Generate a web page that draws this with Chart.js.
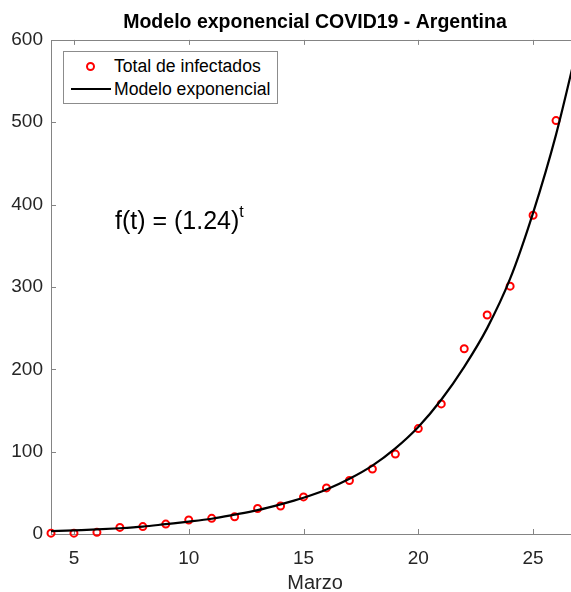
<!DOCTYPE html>
<html>
<head>
<meta charset="utf-8">
<script src="https://cdn.jsdelivr.net/npm/chart.js@4/dist/chart.umd.min.js"></script>
<style>
  html, body { margin: 0; padding: 0; overflow: hidden; background: #fff; }
  #wrap { position: absolute; left: 0; top: 0; width: 590px; height: 592px; }
  .txt { position: absolute; font-family: "Liberation Sans", Arial, Helvetica, sans-serif; color: #000; white-space: nowrap; }
  #legend { left: 63px; top: 51px; width: 213px; height: 51px; border: 1px solid #8c8c8c; background: #fff; font-size: 17.6px; }
  #legend .row { position: absolute; left: 0; height: 22px; line-height: 22px; }
  #legend .mark-o { position: absolute; left: 22px; top: 7px; width: 5px; height: 5px; border: 2px solid #ff0000; border-radius: 50%; }
  #legend .mark-l { position: absolute; left: 7px; top: 10px; width: 40px; height: 2px; background: #000; }
  #legend .lbl { position: absolute; left: 50px; top: 0; }
  #formula { left: 115px; top: 202px; font-size: 25px; line-height: 25px; }
  #formula sup { font-size: 16px; position: relative; top: -3px; }
</style>
</head>
<body>
<div id="wrap"><canvas id="covidChart"></canvas></div>
<div id="legend" class="txt">
  <div class="row" style="top:3px;width:100%"><span class="mark-o"></span><span class="lbl">Total de infectados</span></div>
  <div class="row" style="top:26px;width:100%"><span class="mark-l"></span><span class="lbl">Modelo exponencial</span></div>
</div>
<div id="formula" class="txt">f(t) = (1.24)<sup>t</sup></div>
<script>
// dias de marzo con casos confirmados
const dias = [4, 5, 6, 7, 8, 9, 10, 11, 12, 13, 14, 15, 16, 17, 18, 19, 20, 21, 22, 23, 24, 25, 26];
const infectados = [1, 1, 2, 8, 9, 12, 17, 19, 21, 31, 34, 45, 56, 65, 79, 97, 128, 158, 225, 266, 301, 387, 502];

// curva del modelo
const diasModelo = [4, 5, 6, 7, 8, 9, 10, 11, 12, 13, 14, 15, 16, 17, 18, 19, 20, 21, 22, 23, 24, 25, 26, 27];
const modelo = [3.5, 4.5, 5.5, 7, 9, 12, 15, 18.5, 23.5, 29, 36, 44, 54, 67, 83, 104, 130, 163, 203, 250, 310, 390, 485, 600];

const xTicks = [5, 10, 15, 20, 25];
const yTicks = [0, 100, 200, 300, 400, 500, 600];

const FONT = '"Liberation Sans", Arial, Helvetica, sans-serif';

// caja estilo matlab con marcas hacia adentro
const boxPlugin = {
  id: 'boxPlugin',
  beforeDatasetsDraw(chart) {
    const ctx = chart.ctx;
    const a = chart.chartArea;
    const x = chart.scales.x, y = chart.scales.y;
    ctx.save();
    ctx.strokeStyle = '#848484';
    ctx.lineWidth = 1;
    ctx.strokeRect(Math.round(a.left) + 0.5, Math.round(a.top) + 0.5, Math.round(a.width), Math.round(a.height));
    ctx.beginPath();
    xTicks.forEach(v => {
      const px = Math.round(x.getPixelForValue(v)) + 0.5;
      ctx.moveTo(px, a.bottom); ctx.lineTo(px, a.bottom - 5);
      ctx.moveTo(px, a.top); ctx.lineTo(px, a.top + 5);
    });
    yTicks.forEach(v => {
      const py = Math.round(y.getPixelForValue(v)) + 0.5;
      ctx.moveTo(a.left, py); ctx.lineTo(a.left + 5, py);
    });
    ctx.stroke();
    ctx.restore();
  }
};

document.addEventListener('DOMContentLoaded', function() {
  const ctx = document.getElementById('covidChart').getContext('2d');
  new Chart(ctx, {
    type: 'scatter',
    data: {
      datasets: [{
        label: 'Modelo exponencial',
        data: diasModelo.map((d, i) => ({x: d, y: modelo[i]})),
        showLine: true,
        borderColor: '#000',
        borderWidth: 2.2,
        pointRadius: 0,
        cubicInterpolationMode: 'monotone',
        order: 0
      }, {
        label: 'Total de infectados',
        data: dias.map((d, i) => ({x: d, y: infectados[i]})),
        showLine: false,
        pointStyle: 'circle',
        pointRadius: 3.5,
        pointBorderWidth: 2,
        pointBorderColor: '#ff0000',
        pointBackgroundColor: 'rgba(0,0,0,0)',
        clip: false,
        order: 1
      }]
    },
    options: {
      responsive: true,
      maintainAspectRatio: false,
      animation: false,
      layout: { padding: { left: 0, right: 11, top: 0, bottom: 0 } },
      plugins: {
        legend: { display: false },
        tooltip: { enabled: false },
        title: {
          display: true,
          text: 'Modelo exponencial COVID19 - Argentina',
          fullSize: false,
          color: '#000',
          font: { family: FONT, size: 19.5, weight: 'bold' },
          padding: { top: 11, bottom: 5.5 }
        }
      },
      scales: {
        x: {
          type: 'linear',
          min: 4,
          max: 27,
          afterBuildTicks: s => { s.ticks = xTicks.map(v => ({value: v})); },
          afterFit: s => { s.height = 58; },
          grid: { display: false, drawTicks: false },
          border: { display: false },
          ticks: { color: '#262626', padding: 13, font: { family: FONT, size: 19 } },
          title: { display: true, text: 'Marzo', color: '#262626', padding: { top: 0, bottom: 0 }, font: { family: FONT, size: 20, lineHeight: 0.9 } }
        },
        y: {
          min: 0,
          max: 600,
          afterBuildTicks: s => { s.ticks = yTicks.map(v => ({value: v})); },
          afterFit: s => { s.width = 51; },
          grid: { display: false, drawTicks: false },
          border: { display: false },
          ticks: { color: '#262626', padding: 8, font: { family: FONT, size: 19 } }
        }
      }
    },
    plugins: [boxPlugin]
  });
});
</script>
</body>
</html>
